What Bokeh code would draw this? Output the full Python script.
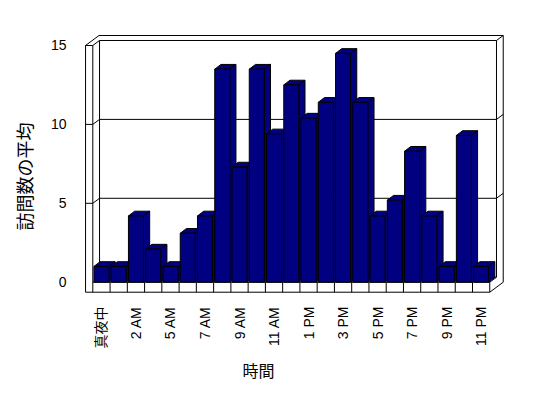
import math
from bokeh.plotting import figure
from bokeh.models import FixedTicker, Range1d, Title, ColumnDataSource
from bokeh.embed import file_html
from bokeh.resources import INLINE

# ---- data ----
hours = ["真夜中", "1 AM", "2 AM", "3 AM", "5 AM", "6 AM", "7 AM", "8 AM", "9 AM",
         "10 AM", "11 AM", "12 PM", "1 PM", "2 PM", "3 PM", "4 PM", "5 PM", "6 PM",
         "7 PM", "8 PM", "9 PM", "10 PM", "11 PM"]
visits = [1, 1, 4.2, 2.1, 1, 3.1, 4.2, 13.5, 7.3, 13.5, 9.4, 12.5, 10.4, 11.4,
          14.5, 11.4, 4.2, 5.2, 8.3, 4.2, 1, 9.3, 1]
y_ticks = [0, 5, 10, 15]
x_title = "時間"
y_title = "訪問数の平均"

FONT = "Liberation Sans, Noto Sans CJK JP"
n = len(hours)
ymax = y_ticks[-1]

# geometry (in data units)
DX, DY = 0.39, 0.317      # wall depth offset
WL, FT = 0.42, 0.634      # left wall / floor thickness
BW = 0.87                 # bar front width
BDX, BDY = 0.36, 0.30     # bar depth offset
xf0, xf1 = -0.5, n - 0.5

p = figure(width=540, height=390, output_backend="svg", toolbar_location=None,
           x_range=Range1d(-1.213, 23.47), y_range=Range1d(-0.906, 15.95),
           min_border_left=80, min_border_right=34, min_border_top=30,
           min_border_bottom=94)
p.xgrid.visible = False
p.ygrid.visible = False
p.outline_line_color = None
p.background_fill_color = "white"
p.border_fill_color = "white"

# outer box (walls + floor slab)
hx = [xf0 - WL, xf0 - WL, xf0 - WL + 2 * DX, xf1 + 2 * DX, xf1 + 2 * DX, xf1]
hy = [-FT, ymax, ymax + 2 * DY, ymax + 2 * DY, -FT + 2 * DY, -FT]
p.patch(hx, hy, fill_color="white", line_color="black", line_width=1)

segs_x, segs_y = [], []
def seg(xs, ys):
    segs_x.append(xs)
    segs_y.append(ys)

# back wall inner face
seg([xf0 + DX, xf0 + DX, xf1 + DX, xf1 + DX, xf0 + DX], [DY, ymax + DY, ymax + DY, DY, DY])
# left wall
seg([xf0 - WL, xf0, xf0 + DX], [ymax, ymax, ymax + DY])
seg([xf0, xf0], [-FT, ymax])
# back wall right/top strip corner
seg([xf1 + DX, xf1 + 2 * DX], [ymax + DY, ymax + 2 * DY])
# floor
seg([xf0, xf1, xf1 + DX], [0, 0, DY])
seg([xf1, xf1], [0, -FT])
for k in range(1, n):
    seg([xf0 + k, xf0 + k], [0, -FT])
# gridlines
for v in y_ticks[1:-1]:
    seg([xf0 - WL, xf0, xf0 + DX, xf1 + DX, xf1 + 2 * DX],
        [v, v, v + DY, v + DY, v + 2 * DY])
p.multi_line(segs_x, segs_y, line_color="black", line_width=1)

# bars: tops and sides (in bar order), then fronts
pxs, pys = [], []
for i, v in enumerate(visits):
    l, r = i - BW / 2, i + BW / 2
    pxs.append([l, l + BDX, r + BDX, r])
    pys.append([v, v + BDY, v + BDY, v])
    pxs.append([r, r, r + BDX, r + BDX])
    pys.append([0, v, v + BDY, BDY])
p.patches(pxs, pys, fill_color="#000080", line_color="black", line_width=1)

src = ColumnDataSource(dict(x=list(range(n)), top=visits))
p.vbar(x="x", top="top", bottom=0, width=BW, source=src,
       fill_color="#000080", line_color="black", line_width=1)

# axes
p.yaxis.ticker = FixedTicker(ticks=y_ticks)
p.yaxis.axis_line_color = None
p.yaxis.major_tick_line_color = None
p.yaxis.minor_tick_line_color = None
p.yaxis.major_label_standoff = 8
p.yaxis.major_label_text_font_size = "14px"
p.yaxis.major_label_text_font = FONT
p.yaxis.major_label_text_color = "black"

even = list(range(0, n, 2))
p.xaxis.ticker = FixedTicker(ticks=even)
p.xaxis.major_label_overrides = {i: hours[i] for i in even}
p.xaxis.major_label_orientation = math.pi / 2
p.xaxis.axis_line_color = None
p.xaxis.major_tick_line_color = None
p.xaxis.minor_tick_line_color = None
p.xaxis.major_label_standoff = 4
p.xaxis.major_label_text_font_size = "14px"
p.xaxis.major_label_text_font = FONT
p.xaxis.major_label_text_color = "black"

p.add_layout(Title(text=x_title, align="left", offset=162, standoff=19, text_font_size="16px",
                   text_font_style="normal", text_font=FONT, text_color="black"), "below")
p.add_layout(Title(text=y_title, align="left", offset=66, standoff=24, text_font_size="18px",
                   text_font_style="normal", text_font=FONT, text_color="black"), "left")

open("out.html", "w").write(file_html(p, INLINE))
